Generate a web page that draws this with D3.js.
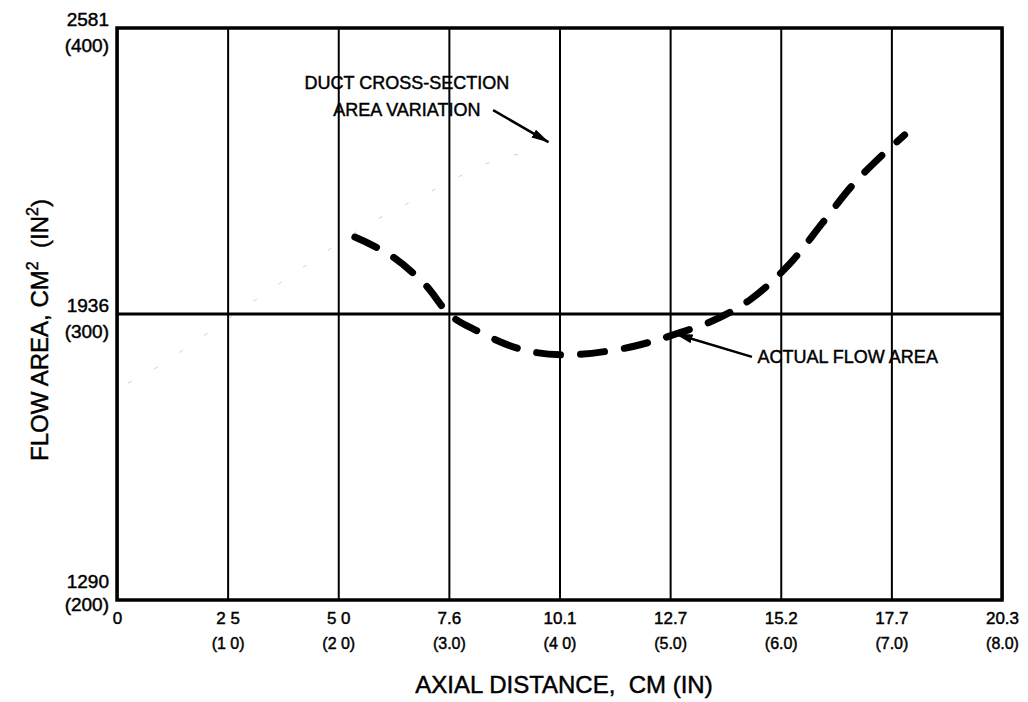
<!DOCTYPE html>
<html>
<head>
<meta charset="utf-8">
<script src="https://cdn.jsdelivr.net/npm/d3@7"></script>
<style>
  body { margin: 0; background: #fff; }
  text { font-family: "Liberation Sans", Arial, sans-serif; fill: #000; stroke: #000; stroke-width: 0.45px; }
</style>
</head>
<body>
<div id="chart"></div>
<script>
// chart size
var svgWidth = 1028;
var svgHeight = 702;

var margin = { top: 28, right: 26, bottom: 102, left: 117 };

// x ticks (inches) and their labels
var xTicks = [0, 1, 2, 3, 4, 5, 6, 7, 8];
var xTickCm = ["0", "2 5", "5 0", "7.6", "10.1", "12.7", "15.2", "17.7", "20.3"];
var xTickIn = ["", "(1 0)", "(2 0)", "(3.0)", "(4 0)", "(5.0)", "(6.0)", "(7.0)", "(8.0)"];

// y ticks (in^2) and their labels
var yTicks = [200, 300, 400];
var yTickCm = ["1290", "1936", "2581"];
var yTickIn = ["(200)", "(300)", "(400)"];

// actual flow area (dashed curve)
var flowX = [2.15, 2.47, 2.78, 3.01, 3.24, 3.64, 4.03, 4.50, 4.82, 5.05, 5.36, 5.72, 6.08, 6.37, 6.65, 6.90, 7.12];
var flowY = [326.9, 320.6, 310.5, 299.7, 294.4, 287.8, 285.7, 287.4, 290.2, 293.0, 297.2, 304.9, 317.5, 331.5, 345.1, 354.9, 362.6];

// duct cross-section area variation (very faint in the scan)
var ductX = [0.10, 0.25, 2.25, 2.74, 3.31, 3.55, 3.84];
var ductY = [275.9, 278.7, 330.8, 340.9, 352.1, 355.2, 357.3];

var chartWidth = svgWidth - margin.left - margin.right;
var chartHeight = svgHeight - margin.top - margin.bottom;

var svg = d3.select("#chart")
  .append("svg")
  .attr("width", svgWidth)
  .attr("height", svgHeight);

var chartGroup = svg.append("g")
  .attr("transform", `translate(${margin.left}, ${margin.top})`);

var xScale = d3.scaleLinear().domain([0, 8]).range([0, chartWidth]);
var yScale = d3.scaleLinear().domain([200, 400]).range([chartHeight, 0]);

// arrow marker
var defs = svg.append("defs");
defs.append("marker")
  .attr("id", "arrow")
  .attr("viewBox", "0 0 18 9")
  .attr("refX", 17)
  .attr("refY", 4.5)
  .attr("markerWidth", 18)
  .attr("markerHeight", 9)
  .attr("markerUnits", "userSpaceOnUse")
  .attr("orient", "auto")
  .append("path")
  .attr("d", "M0,0 L18,4.5 L0,9 Z")
  .attr("fill", "#000");

// vertical grid lines via bottom axis
var bottomAxis = d3.axisBottom(xScale)
  .tickValues(xTicks)
  .tickSize(-chartHeight)
  .tickFormat((d, i) => xTickCm[i]);

var xAxisG = chartGroup.append("g")
  .attr("transform", `translate(0, ${chartHeight})`)
  .call(bottomAxis);

xAxisG.select(".domain").remove();
xAxisG.selectAll(".tick line")
  .attr("stroke", "#000")
  .attr("stroke-width", 2);
xAxisG.selectAll(".tick text")
  .attr("y", 24)
  .attr("dy", 0)
  .attr("font-size", 17)
  .attr("font-family", "Liberation Sans, Arial, sans-serif");
xAxisG.selectAll(".tick")
  .append("text")
  .attr("y", 49)
  .attr("text-anchor", "middle")
  .attr("font-size", 16)
  .text((d, i) => xTickIn[i]);

// left axis labels (two rows)
var leftAxis = d3.axisLeft(yScale)
  .tickValues(yTicks)
  .tickSize(0)
  .tickFormat((d, i) => yTickCm[i]);

var yAxisG = chartGroup.append("g").call(leftAxis);
yAxisG.select(".domain").remove();
yAxisG.selectAll(".tick text")
  .attr("x", -8)
  .attr("dy", 0)
  .attr("y", d => d === 200 ? -13 : -3)
  .attr("font-size", 19)
  .attr("font-family", "Liberation Sans, Arial, sans-serif");
yAxisG.selectAll(".tick")
  .append("text")
  .attr("x", -8)
  .attr("y", d => d === 200 ? 10 : 23)
  .attr("text-anchor", "end")
  .attr("font-size", 19)
  .text((d, i) => yTickIn[i]);

// horizontal line at 300 in^2
chartGroup.append("line")
  .attr("x1", 0)
  .attr("x2", chartWidth)
  .attr("y1", yScale(300))
  .attr("y2", yScale(300))
  .attr("stroke", "#000")
  .attr("stroke-width", 3);

// frame
chartGroup.append("rect")
  .attr("x", 0)
  .attr("y", 0)
  .attr("width", chartWidth)
  .attr("height", chartHeight)
  .attr("fill", "none")
  .attr("stroke", "#000")
  .attr("stroke-width", 3.5);

// duct curve, faint
var ductData = ductX.map((d, i) => ({ x: d, y: ductY[i] }));
chartGroup.append("path")
  .attr("d", d3.line().x(d => xScale(d.x)).y(d => yScale(d.y)).curve(d3.curveCatmullRom)(ductData))
  .attr("fill", "none")
  .attr("stroke", "#cfcfcf")
  .attr("stroke-width", 1)
  .attr("stroke-dasharray", "4,26");

// actual flow curve
var flowData = flowX.map((d, i) => ({ x: d, y: flowY[i] }));
var drawLine = d3.line()
  .x(d => xScale(d.x))
  .y(d => yScale(d.y))
  .curve(d3.curveCatmullRom);

chartGroup.append("path")
  .attr("d", drawLine(flowData))
  .attr("fill", "none")
  .attr("stroke", "#000")
  .attr("stroke-width", 7)
  .attr("stroke-linecap", "round")
  .attr("stroke-dasharray", "24,20");

// annotations
chartGroup.append("text")
  .attr("x", xScale(2.62))
  .attr("y", yScale(378.7))
  .attr("text-anchor", "middle")
  .attr("font-size", 18)
  .text("DUCT CROSS-SECTION");
chartGroup.append("text")
  .attr("x", xScale(2.62))
  .attr("y", yScale(369.2))
  .attr("text-anchor", "middle")
  .attr("font-size", 18)
  .text("AREA VARIATION");
chartGroup.append("line")
  .attr("x1", xScale(3.40)).attr("y1", yScale(371.3))
  .attr("x2", xScale(3.90)).attr("y2", yScale(360.1))
  .attr("stroke", "#000")
  .attr("stroke-width", 2.5)
  .attr("marker-end", "url(#arrow)");

chartGroup.append("text")
  .attr("x", xScale(5.79))
  .attr("y", yScale(282.9))
  .attr("font-size", 18)
  .text("ACTUAL FLOW AREA");
chartGroup.append("line")
  .attr("x1", xScale(5.74)).attr("y1", yScale(285.0))
  .attr("x2", xScale(5.05)).attr("y2", yScale(293.0))
  .attr("stroke", "#000")
  .attr("stroke-width", 2.5)
  .attr("marker-end", "url(#arrow)");

// axis titles
svg.append("text")
  .attr("x", 564)
  .attr("y", 693)
  .attr("text-anchor", "middle")
  .attr("font-size", 24)
  .attr("xml:space", "preserve")
  .text("AXIAL DISTANCE,  CM (IN)");

var yTitle = svg.append("text")
  .attr("transform", "translate(48, 330) rotate(-90)")
  .attr("text-anchor", "middle")
  .attr("font-size", 24)
  .attr("xml:space", "preserve");
yTitle.append("tspan").text("FLOW AREA, CM");
yTitle.append("tspan").attr("dy", -10).attr("font-size", 16).text("2");
yTitle.append("tspan").attr("dy", 10).text("  (IN");
yTitle.append("tspan").attr("dy", -10).attr("font-size", 16).text("2");
yTitle.append("tspan").attr("dy", 10).text(")");
</script>
</body>
</html>
